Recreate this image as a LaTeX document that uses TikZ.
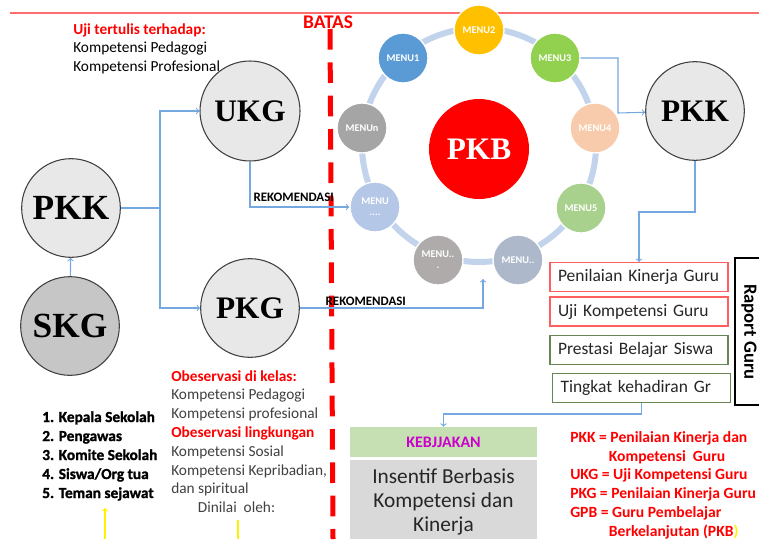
\documentclass[tikz,border=0pt]{standalone}
\usepackage{fontspec}
\setmainfont{Carlito}
\newfontfamily\serifbold{Liberation Serif}
\newfontfamily\heavyfont[BoldFeatures={FakeBold=1.3}]{Carlito}
\usepackage{tikz}

\definecolor{linkblue}{RGB}{116,168,222}
\definecolor{ringblue}{RGB}{194,211,236}
\definecolor{ballgray}{RGB}{232,232,232}
\definecolor{darkball}{RGB}{198,198,198}
\definecolor{batasred}{RGB}{255,0,0}
\definecolor{toplinered}{RGB}{255,110,110}
\definecolor{textgray}{RGB}{64,64,64}
\definecolor{boxred}{RGB}{255,95,95}
\definecolor{boxgreen}{RGB}{104,134,84}
\definecolor{kebgreen}{RGB}{198,224,180}
\definecolor{kebpink}{RGB}{204,0,204}
\definecolor{insgray}{RGB}{217,217,217}
\definecolor{menuA}{RGB}{91,155,213}
\definecolor{menuB}{RGB}{255,192,0}
\definecolor{menuC}{RGB}{146,208,80}
\definecolor{menuD}{RGB}{248,203,173}
\definecolor{menuE}{RGB}{169,209,142}
\definecolor{menuF}{RGB}{173,185,202}
\definecolor{menuG}{RGB}{175,171,171}
\definecolor{menuH}{RGB}{180,199,231}
\definecolor{menuN}{RGB}{165,165,165}

\tikzset{
	ball/.style={shape=circle, draw=black!75, line width=0.8pt, fill=ballgray, minimum size=74pt, inner sep=0pt, font=\serifbold\bfseries\fontsize{23.5}{26}\selectfont},
	menu/.style={shape=circle, draw=white, line width=1pt, minimum size=37.5pt, inner sep=0pt, text=white, align=center, font=\bfseries\fontsize{7.7}{8}\selectfont},
	link/.style={draw=linkblue, line width=0.8pt, ->},
	note/.style={anchor=north west, align=left, inner sep=0pt, font=\fontsize{11.5}{14.1}\selectfont},
	infobox/.style={draw, line width=0.8pt, text width=121.5pt, align=left, inner xsep=6pt, minimum height=21.75pt, text=black!85, font=\fontsize{13.1}{14}\selectfont},
	reko/.style={above, inner sep=1.5pt, text=black, font=\bfseries\fontsize{9.7}{10}\selectfont}
}

\begin{document}
\begin{tikzpicture}[x=0.75pt, y=-0.75pt]
	\useasboundingbox (0,0) rectangle (759,539);

	\coordinate (topL) at (10,13);
	\coordinate (topR) at (759,13);
	\draw[toplinered, line width=1pt] (topL) -- (topR);

	\draw[ringblue, line width=4.5pt] (479,145) circle (117);

	\node[menu, fill=menuB] (menu2) at (479,30) {MENU2};
	\node[menu, fill=menuA] (menu1) at (403,58) {MENU1};
	\node[menu, fill=menuC] (menu3) at (555,58) {MENU3};
	\node[menu, fill=menuD] (menu4) at (595,128) {MENU4};
	\node[menu, fill=menuE] (menu5) at (581,208) {MENU5};
	\node[menu, fill=menuF] (menu6) at (518,260) {MENU..};
	\node[menu, fill=menuG] (menu7) at (438,260) {MENU..\\.};
	\node[menu, fill=menuH] (menu8) at (375,207) {MENU\\....};
	\node[menu, fill=menuN] (menun) at (362,128) {MENUn};

	\node[shape=circle, fill=batasred, minimum size=75pt, inner sep=0pt, text=white, font=\serifbold\bfseries\fontsize{23.5}{26}\selectfont] (pkb) at (479,149) {PKB};

	\node[ball, font=\serifbold\bfseries\fontsize{26.5}{28}\selectfont] (pkkL) at (71,208) {PKK};
	\node[ball, fill=darkball, font=\serifbold\bfseries\fontsize{26.5}{28}\selectfont] (skg) at (70,326) {SKG};
	\node[ball, minimum size=75pt] (ukg) at (250,111) {UKG};
	\node[ball] (pkg) at (250,308) {PKG};
	\node[ball] (pkkR) at (695,111) {PKK};

	\node[note] (uji) at (73,23) {{\color{batasred}\bfseries Uji tertulis terhadap:}\\Kompetensi Pedagogi\\Kompetensi Profesional};

	\node[text=batasred, font=\bfseries\fontsize{14.5}{16}\selectfont] (batas) at (328,22) {BATAS};
	\coordinate (batasTop) at (330,29);
	\coordinate (batasBot) at (333,539);
	\draw[batasred, line width=3.75pt, dash pattern=on 15.5pt off 9.5pt] (batasTop) -- (batasBot);

	\coordinate (split) at (160,208);
	\draw[link, -] (pkkL) -- (split);
	\draw[link] (split) |- (ukg);
	\draw[link] (split) |- (pkg);
	\path [link] (skg) edge (pkkL);

	\draw[link] (ukg) |- node[reko, pos=0.72, yshift=2pt] {REKOMENDASI} (menu8);
	\coordinate (rekoEnd) at (483,279);
	\draw[link] (pkg) -| node[reko, pos=0.18] {REKOMENDASI} (rekoEnd);

	\coordinate (jogA) at (618,113);
	\draw[link] (menu3) -| (jogA) -- (pkkR);

	\node[infobox, draw=boxred] (kinerja) at (639,277) {Penilaian Kinerja Guru};
	\node[infobox, draw=boxred] (ujiBox) at (639,311.5) {Uji Kompetensi Guru};
	\node[infobox, draw=boxgreen] (prestasi) at (639,350) {Prestasi Belajar Siswa};
	\node[infobox, draw=boxgreen] (hadir) at (641.5,388) {Tingkat kehadiran Gr};

	\coordinate (jogB) at (639,212);
	\draw[link] (pkkR) |- (jogB) -- (kinerja);

	\draw[line width=0.8pt] (759,258) -| (735,405) -- (759,405);
	\node[rotate=-90, font=\bfseries\fontsize{14}{15}\selectfont] (raport) at (749,332) {Raport Guru};

	\node[fill=kebgreen, minimum width=140pt, minimum height=22.5pt, inner sep=0pt, text=kebpink, font=\bfseries\fontsize{12}{13}\selectfont] (kebijakan) at (443.5,442) {KEBJJAKAN};
	\node[fill=insgray, minimum width=140pt, minimum height=59pt, inner sep=0pt] (insentif) at (443.5,499.5) {};
	\node[align=center, inner sep=0pt, text=black!85, font=\fontsize{16}{18}\selectfont] (insText) at (443.5,501.5) {Insentif Berbasis\\Kompetensi dan\\Kinerja};

	\coordinate (jogC) at (443.5,414);
	\draw[link] (hadir) |- (jogC) -- (kebijakan);

	\node[note, text=black, font=\heavyfont\bfseries\fontsize{11.5}{14.25}\selectfont] (penilai) at (42,411) {1. Kepala Sekolah\\2. Pengawas\\3. Komite Sekolah\\4. Siswa/Org tua\\5. Teman sejawat};

	\node[note, text=textgray] (obs) at (171,370) {{\color{batasred}\bfseries Obeservasi di kelas:}\\Kompetensi Pedagogi\\Kompetensi profesional\\{\color{batasred}\bfseries Obeservasi lingkungan}\\Kompetensi Sosial\\Kompetensi Kepribadian,\\dan spiritual\\\hspace*{20pt}Dinilai\ \ oleh:};

	\node[note, text=batasred, font=\bfseries\fontsize{11.7}{14.1}\selectfont] (legend) at (570,431) {PKK = Penilaian Kinerja dan\\\hspace*{29pt}Kompetensi\ \ Guru\\UKG = Uji Kompetensi Guru\\PKG = Penilaian Kinerja Guru\\GPB = Guru Pembelajar\\\hspace*{29pt}Berkelanjutan (PKB{\color{yellow})}};

	\coordinate (yelA) at (105,539);
	\coordinate (yelB) at (105,508);
	\draw[yellow, line width=0.8pt, ->] (yelA) -- (yelB);
	\coordinate (yelC) at (238,539);
	\coordinate (yelD) at (238,520);
	\draw[yellow, line width=0.8pt] (yelC) -- (yelD);
\end{tikzpicture}
\end{document}
